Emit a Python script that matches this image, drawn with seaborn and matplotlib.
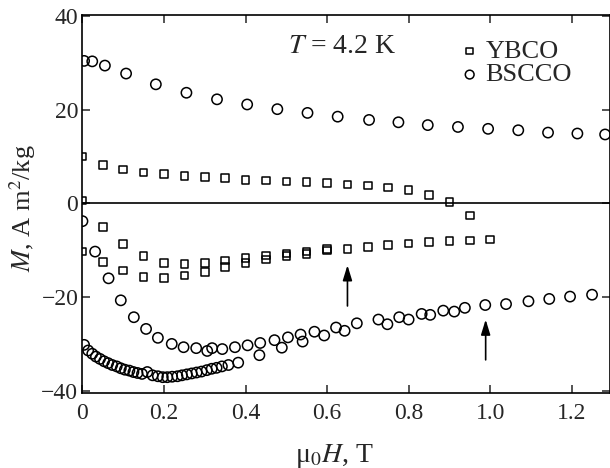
import matplotlib
matplotlib.use('Agg')
import matplotlib.pyplot as plt
import seaborn as sns
import pandas as pd

# YBCO loop, three branches
ybco_top_h = [0.0, 0.05, 0.10, 0.15, 0.20, 0.25, 0.30, 0.35, 0.40, 0.45, 0.50,
              0.55, 0.60, 0.65, 0.70, 0.75, 0.80, 0.85, 0.90, 0.95]
ybco_top_m = [10.0, 8.2, 7.2, 6.6, 6.2, 5.9, 5.6, 5.4, 5.0, 4.9, 4.7,
              4.5, 4.3, 4.0, 3.8, 3.4, 2.8, 1.8, 0.3, -2.6]
ybco_mid_h = [0.0, 0.05, 0.10, 0.15, 0.20, 0.25, 0.30, 0.35, 0.40, 0.45, 0.50,
              0.55, 0.60, 0.65, 0.70, 0.75, 0.80, 0.85, 0.90, 0.95, 1.00]
ybco_mid_m = [0.6, -5.0, -8.7, -11.3, -12.7, -13.0, -12.7, -12.2, -11.7, -11.1, -10.7,
              -10.3, -9.8, -9.7, -9.3, -8.9, -8.6, -8.3, -8.1, -7.9, -7.7]
ybco_low_h = [0.0, 0.05, 0.10, 0.15, 0.20, 0.25, 0.30, 0.35, 0.40, 0.45, 0.50, 0.55, 0.60]
ybco_low_m = [-10.3, -12.5, -14.3, -15.7, -15.9, -15.4, -14.6, -13.6, -12.7, -12.0, -11.3, -10.8, -10.1]

# BSCCO branches
bscco_top_h = [0.004, 0.024, 0.055, 0.107, 0.180, 0.255, 0.330, 0.404, 0.478, 0.552,
               0.626, 0.703, 0.775, 0.847, 0.921, 0.995, 1.069, 1.142, 1.214, 1.282]
bscco_top_m = [30.4, 30.3, 29.4, 27.7, 25.4, 23.6, 22.2, 21.1, 20.1, 19.3,
               18.5, 17.8, 17.3, 16.7, 16.3, 15.9, 15.6, 15.1, 14.9, 14.7]
bscco_mid_h = [0.0, 0.031, 0.064, 0.094, 0.126, 0.156, 0.185, 0.219, 0.248, 0.279,
               0.306, 0.318, 0.343, 0.374, 0.405, 0.436, 0.434, 0.471, 0.489, 0.504,
               0.535, 0.540, 0.569, 0.593, 0.622, 0.643, 0.673, 0.726, 0.748, 0.777,
               0.800, 0.832, 0.853, 0.885, 0.912, 0.938, 0.988, 1.039, 1.094, 1.145,
               1.196, 1.250]
bscco_mid_m = [-3.8, -10.3, -16.0, -20.7, -24.3, -26.8, -28.7, -30.0, -30.7, -30.9,
               -31.5, -30.9, -31.1, -30.7, -30.3, -29.8, -32.4, -29.2, -30.8, -28.6,
               -28.0, -29.5, -27.4, -28.2, -26.5, -27.2, -25.6, -24.8, -25.8, -24.3,
               -24.8, -23.6, -23.8, -22.9, -23.1, -22.3, -21.7, -21.5, -20.9, -20.4,
               -19.9, -19.5]
bscco_low_h = [0.004, 0.014, 0.024, 0.033, 0.043, 0.053, 0.063, 0.073, 0.084, 0.094,
               0.104, 0.115, 0.125, 0.135, 0.146, 0.159, 0.172, 0.185, 0.197, 0.208,
               0.220, 0.233, 0.244, 0.256, 0.268, 0.280, 0.292, 0.305, 0.317, 0.329,
               0.342, 0.358, 0.382]
bscco_low_m = [-30.2, -31.4, -32.1, -32.7, -33.2, -33.7, -34.1, -34.5, -34.8, -35.2,
               -35.5, -35.7, -36.0, -36.2, -36.4, -36.0, -36.7, -36.9, -37.1, -37.1,
               -37.0, -36.9, -36.7, -36.5, -36.3, -36.1, -35.9, -35.6, -35.3, -35.1,
               -34.8, -34.5, -34.0]

ybco = pd.DataFrame({'H': ybco_top_h + ybco_mid_h + ybco_low_h,
                     'M': ybco_top_m + ybco_mid_m + ybco_low_m})
bscco = pd.DataFrame({'H': bscco_top_h + bscco_mid_h + bscco_low_h,
                      'M': bscco_top_m + bscco_mid_m + bscco_low_m})

sns.set_style("ticks")
plt.rcParams['font.family'] = ['Liberation Serif', 'DejaVu Serif']
plt.rcParams['mathtext.fontset'] = 'stix'

fig = plt.figure(figsize=(6.1, 4.68), dpi=100)
ax = fig.add_axes([0.1352, 0.160, 0.8648, 0.808])

ax.axhline(0, color='black', lw=1.2, zorder=1)

sns.scatterplot(data=ybco, x='H', y='M', ax=ax, marker='s', s=30, facecolor='none',
                edgecolor='black', linewidth=1.1, label='YBCO', zorder=3)
sns.scatterplot(data=bscco, x='H', y='M', ax=ax, marker='o', s=55, facecolor='none',
                edgecolor='black', linewidth=1.1, label='BSCCO', zorder=3)

# arrows
arrow = dict(arrowstyle='-|>,head_length=0.65,head_width=0.2', color='black',
             lw=1.2, mutation_scale=14, shrinkA=0, shrinkB=0)
ax.annotate('', xy=(0.65, -13.2), xytext=(0.65, -21.9), arrowprops=arrow)
ax.annotate('', xy=(0.989, -24.8), xytext=(0.989, -33.4), arrowprops=arrow)

ax.text(0.504, 33.4, '$T$ = 4.2 K', fontsize=20, ha='left', va='center')

ax.set_xlim(0, 1.294)
ax.set_ylim(-40.5, 40.2)
ax.set_xticks([0, 0.2, 0.4, 0.6, 0.8, 1.0, 1.2])
ax.set_xticklabels(['0', '0.2', '0.4', '0.6', '0.8', '1.0', '1.2'])
ax.set_yticks([-40, -20, 0, 20, 40])
ax.tick_params(direction='in', length=6, width=1.1, labelsize=17,
               top=True, right=True)
ax.tick_params(axis='x', pad=7)
ax.tick_params(axis='y', pad=3)
for sp in ax.spines.values():
    sp.set_linewidth(1.2)
    sp.set_color('black')

ax.set_xlabel('μ$_0$$H$, T', fontsize=20)
ax.set_ylabel('$M$, A m$^2$/kg', fontsize=19)
ax.xaxis.set_label_coords(0.478, -0.128)
ax.yaxis.set_label_coords(-0.084, 0.49)

ax.legend(loc='upper left', bbox_to_anchor=(0.709, 0.935), frameon=False,
          handletextpad=0.1, labelspacing=0.0, borderaxespad=0, borderpad=0,
          handlelength=1.0, fontsize=19, markerscale=0.85)

fig.savefig('out.png', dpi=100)
